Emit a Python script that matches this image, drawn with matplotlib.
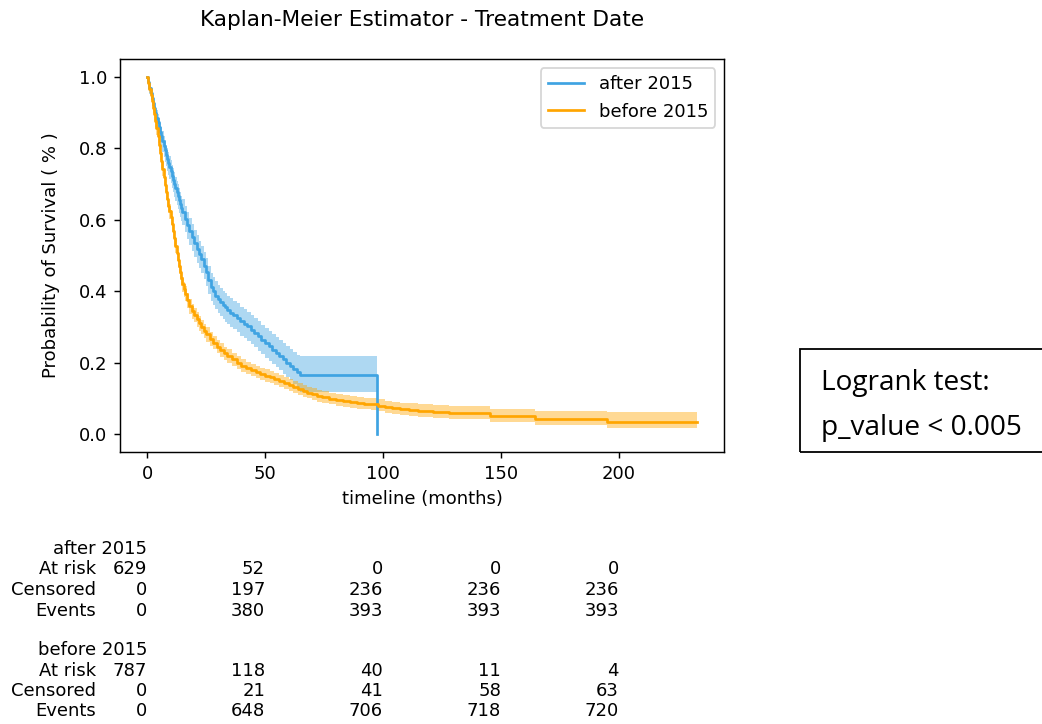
import numpy as np
import matplotlib.pyplot as plt
import matplotlib.transforms as mtransforms
from matplotlib.patches import Rectangle

# Kaplan-Meier estimates (months, survival, lower/upper confidence limit)
t_after = [0, 0.5, 1, 1.5, 2, 2.5, 3, 3.5, 4, 4.5, 5, 5.5, 6, 6.5, 7, 7.5, 8, 8.5, 9, 9.5,
           10, 10.5, 11, 11.5, 12, 12.5, 13, 13.5, 14, 14.5, 15, 16, 17, 18, 19, 20, 21, 22,
           23, 24, 25, 26, 27, 28, 29, 30, 31, 32, 33, 34, 35, 36.5, 38, 39.5, 41, 42.5, 44,
           45.5, 47, 48.5, 50, 51.5, 53, 54.5, 56, 57.5, 59, 60.5, 62, 63.5, 65, 97.5]
s_after = [1.0, .985, .97, .956, .942, .928, .914, .899, .886, .873, .86, .847, .834, .821,
           .808, .795, .782, .771, .76, .748, .736, .724, .712, .7, .688, .677, .666, .655,
           .644, .633, .623, .603, .585, .568, .551, .535, .519, .504, .49, .472, .455, .432,
           .412, .4, .388, .378, .37, .362, .355, .347, .34, .333, .325, .316, .308, .302,
           .292, .283, .274, .264, .254, .246, .236, .228, .219, .209, .2, .192, .182, .173,
           .165, 0.0]
lo_after = [1.0, .973, .953, .936, .92, .905, .89, .874, .86, .846, .832, .818, .804, .79,
            .777, .763, .75, .738, .727, .714, .702, .689, .677, .665, .652, .641, .63, .619,
            .607, .596, .586, .565, .547, .529, .512, .496, .48, .465, .451, .433, .415, .393,
            .373, .361, .349, .339, .331, .323, .315, .307, .3, .293, .285, .276, .268, .262,
            .252, .243, .234, .224, .214, .206, .196, .188, .179, .169, .16, .151, .141, .131,
            .118, .118]
hi_after = [1.0, .995, .983, .971, .959, .947, .934, .92, .908, .896, .884, .872, .86, .848,
            .836, .823, .811, .8, .79, .778, .767, .755, .744, .733, .721, .71, .7, .689,
            .678, .668, .658, .639, .622, .605, .589, .573, .557, .542, .528, .511, .494, .472,
            .452, .44, .428, .418, .41, .402, .395, .387, .38, .373, .366, .357, .349, .343,
            .333, .325, .316, .306, .297, .289, .28, .272, .264, .254, .246, .238, .229, .221,
            .218, .218]

t_before = [0, 0.5, 1, 1.5, 2, 2.5, 3, 3.5, 4, 4.5, 5, 5.5, 6, 6.5, 7, 7.5, 8, 8.5, 9, 9.5,
            10, 10.5, 11, 11.5, 12, 12.5, 13, 13.5, 14, 14.5, 15, 15.5, 16, 17, 18, 19, 20,
            21, 22, 23, 24, 25, 26.5, 28, 29.5, 31, 32.5, 34, 36, 38, 40, 42, 44, 46, 48, 50,
            52, 54, 56, 58, 60, 62, 64, 66, 68, 70, 72, 74, 77, 80, 83, 86, 89, 92, 95, 98,
            101, 104, 107, 111, 115, 121, 128, 136, 145.3, 164.4, 194.9, 233]
s_before = [1.0, .983, .966, .949, .932, .914, .896, .877, .856, .834, .811, .788, .765, .742,
            .719, .697, .677, .658, .64, .624, .607, .588, .569, .549, .528, .506, .487, .47,
            .453, .436, .42, .405, .393, .375, .358, .344, .333, .321, .31, .3, .289, .279,
            .267, .256, .245, .235, .226, .218, .209, .2, .192, .185, .179, .174, .169, .164,
            .16, .155, .149, .143, .137, .132, .126, .121, .116, .111, .106, .103, .099, .096,
            .093, .09, .087, .085, .083, .08, .076, .072, .07, .067, .064, .062, .06, .059,
            .05, .042, .033, .033]
lo_before = [1.0, .975, .955, .936, .918, .899, .88, .86, .839, .816, .793, .769, .746, .722,
             .699, .677, .656, .637, .619, .603, .586, .567, .548, .528, .507, .485, .466, .449,
             .432, .415, .399, .384, .372, .354, .337, .323, .313, .301, .29, .28, .269, .259,
             .248, .237, .226, .216, .207, .2, .191, .182, .175, .168, .162, .157, .152, .147,
             .143, .138, .132, .127, .121, .116, .11, .105, .1, .095, .09, .087, .083, .08,
             .077, .074, .071, .069, .067, .064, .06, .056, .054, .051, .048, .045, .043, .042,
             .034, .025, .016, .016]
hi_before = [1.0, .99, .976, .961, .945, .928, .911, .893, .873, .851, .829, .806, .784, .761,
             .739, .717, .697, .678, .661, .645, .628, .609, .59, .57, .549, .527, .508, .491,
             .474, .457, .441, .426, .414, .396, .379, .365, .354, .342, .33, .32, .309, .299,
             .287, .275, .264, .254, .245, .237, .227, .218, .21, .202, .196, .191, .186, .181,
             .177, .172, .166, .16, .154, .149, .143, .138, .133, .128, .123, .12, .116, .113,
             .11, .107, .104, .102, .1, .097, .094, .09, .088, .086, .083, .081, .08, .079,
             .07, .065, .061, .061]

# at-risk table
ticks = [0, 50, 100, 150, 200]
after_at_risk = [629, 52, 0, 0, 0]
after_censored = [0, 197, 236, 236, 236]
after_events = [0, 380, 393, 393, 393]
before_at_risk = [787, 118, 40, 11, 4]
before_censored = [0, 21, 41, 58, 63]
before_events = [0, 648, 706, 718, 720]

c_after = '#3fa3e2'
c_before = '#ffa500'

fig = plt.figure(figsize=(1042 / 130, 724 / 130), dpi=130)
ax = fig.add_axes([0.1147, 0.3758, 0.5805, 0.5424])

ax.fill_between(t_after, lo_after, hi_after, step='post', color=c_after, alpha=0.42, lw=0)
ax.step(t_after, s_after, where='post', color=c_after, lw=1.5, label='after 2015')
ax.fill_between(t_before, lo_before, hi_before, step='post', color=c_before, alpha=0.42, lw=0)
ax.step(t_before, s_before, where='post', color=c_before, lw=1.5, label='before 2015')

ax.set_xlim(-11.65, 244.65)
ax.set_ylim(-0.05, 1.05)
ax.set_xticks(ticks)
ax.set_xlabel('timeline (months)')
ax.set_ylabel('Probability of Survival ( % )', labelpad=10)
ax.legend(loc='upper right')
fig.suptitle('Kaplan-Meier Estimator - Treatment Date', x=0.405, y=0.986, fontsize=12)

# counts under the axis, right aligned on the ticks
trans = mtransforms.blended_transform_factory(ax.transData, fig.transFigure)
groups = [('after 2015', after_at_risk, after_censored, after_events, 549),
          ('before 2015', before_at_risk, before_censored, before_events, 650)]
for name, risk, cens, ev, ytop in groups:
    fig.text(0, 1 - ytop / 724, name, transform=trans, ha='right', va='center', fontsize=10)
    for k, (lab, vals) in enumerate([('At risk', risk), ('Censored', cens), ('Events', ev)]):
        y = 1 - (ytop + 20.5 * (k + 1)) / 724
        fig.text(96 / 1042, y, lab, ha='right', va='center', fontsize=10)
        for tx, v in zip(ticks, vals):
            fig.text(tx, y, str(v), transform=trans, ha='right', va='center', fontsize=10)

# logrank result box
fig.patches.append(Rectangle((800 / 1042, 0.3757), 0.4, 0.1423, transform=fig.transFigure,
                             fill=False, edgecolor='black', lw=1.0, clip_on=False))
fig.text(821 / 1042, 1 - 383 / 724, 'Logrank test:', ha='left', va='center',
         fontsize=15.5, family='Open Sans')
fig.text(821 / 1042, 1 - 428 / 724, 'p_value < 0.005', ha='left', va='center',
         fontsize=15.5, family='Open Sans')

fig.savefig('out.png', dpi=130)
